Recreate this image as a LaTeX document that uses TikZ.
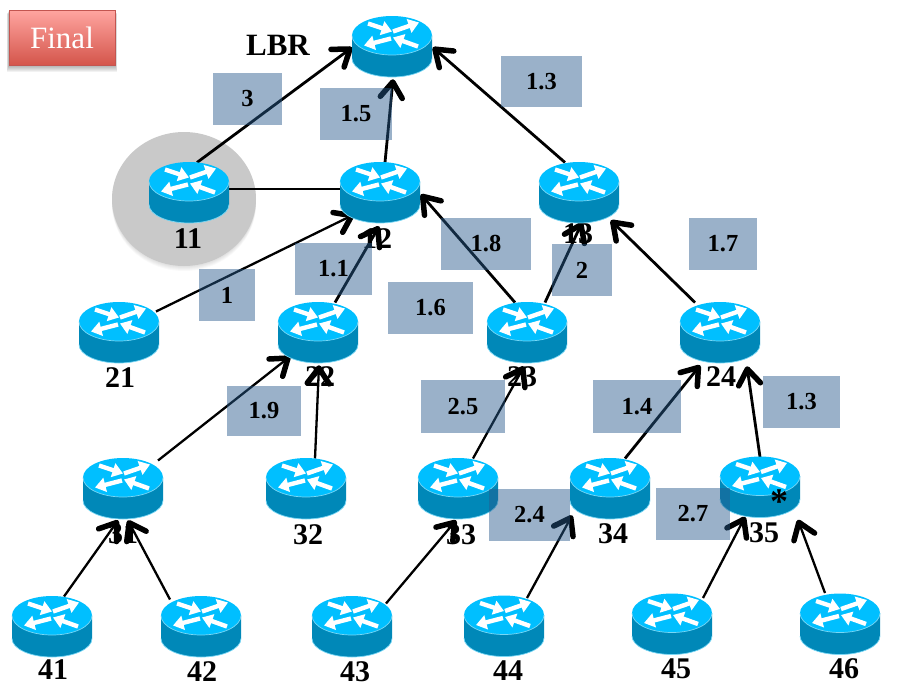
\documentclass[tikz,border=0pt]{standalone}
\usepackage{fontspec}
\setmainfont{Liberation Serif}
\usetikzlibrary{arrows.meta,calc,shapes.geometric}
\definecolor{rtop}{RGB}{0,191,255}
\definecolor{rside}{RGB}{0,136,184}
\definecolor{rrim}{RGB}{120,215,245}
\definecolor{boxblue}{RGB}{40,90,140}
\pgfdeclarearrow{
  name=VBarb,
  setup code={\pgfarrowssettipend{0pt}\pgfarrowssetlineend{-3pt}\pgfarrowssetvisualbackend{-18pt}\pgfarrowssetbackend{-18pt}},
  drawing code={
    \pgfsetlinewidth{5.5pt}\pgfsetroundcap\pgfsetroundjoin\pgfsetdash{}{0pt}
    \pgfpathmoveto{\pgfpoint{-18pt}{11pt}}
    \pgfpathlineto{\pgfpoint{-2.5pt}{0pt}}
    \pgfpathlineto{\pgfpoint{-18pt}{-11pt}}
    \pgfusepathqstroke
  }
}
\tikzset{
  rtr/.style={ellipse,minimum width=80pt,minimum height=61pt,inner sep=0pt},
  arr/.style={line width=2.8pt,-{VBarb}},
  thinarr/.style={line width=2.3pt,-{VBarb}},
  plainline/.style={line width=2.8pt},
  numlabel/.style={font=\fontsize{30}{32}\selectfont\bfseries,inner sep=0pt},
  valbox/.style={fill=boxblue,fill opacity=.47,text opacity=1,inner sep=0pt,font=\fontsize{24.5}{26}\selectfont\bfseries},
  rarrow/.style={white,line width=4.4pt,-{Triangle[length=10.5pt,width=14pt]}},
}
\begin{document}
\begin{tikzpicture}[x=1pt,y=-1pt]
\useasboundingbox (0,0) rectangle (899,699);
% gray halo behind router 11
\foreach \o in {5,4,3,2,1}
  \fill[black,opacity=.025] (184,199+\o) ellipse [x radius=72,y radius=67];
\fill[black!21] (184,199) ellipse [x radius=72,y radius=67];
% Final button
\foreach \o in {7,6,5,4,3,2,1}
  \fill[black,opacity=.05] (9-\o/3,10+\o/2) rectangle (115+\o/3,65+\o);
\node[draw={rgb,255:red,195;green,85;blue,80},line width=1pt,top color={rgb,255:red,255;green,165;blue,160},bottom color={rgb,255:red,212;green,85;blue,75},minimum width=106pt,minimum height=55pt,inner sep=0pt,text=white,font=\fontsize{31}{33}\selectfont] (final) at (62,37.5) {Final};
% router anchors
\node[rtr] (lbr) at (392,46.5) {};
\node[rtr] (r11) at (189,192.5) {};
\node[rtr] (r12) at (380,192.5) {};
\node[rtr] (r13) at (579,192.5) {};
\node[rtr] (r21) at (119,332.5) {};
\node[rtr] (r22) at (318,332.5) {};
\node[rtr] (r23) at (527,332.5) {};
\node[rtr] (r24) at (720,332.5) {};
\node[rtr] (r31) at (123,488.5) {};
\node[rtr] (r32) at (306,488.5) {};
\node[rtr] (r33) at (458,488.5) {};
\node[rtr] (r34) at (610,488.5) {};
\node[rtr] (r35) at (760,487) {};
\node[rtr] (r41) at (52,626.5) {};
\node[rtr] (r42) at (201,626.5) {};
\node[rtr] (r43) at (352,626.5) {};
\node[rtr] (r44) at (504,626) {};
\node[rtr] (r45) at (672,624) {};
\node[rtr] (r46) at (840,624) {};
% text labels
\node[numlabel,font=\fontsize{31}{33}\selectfont\bfseries] (tlbr) at (278,45) {LBR};
\node[numlabel] (t11) at (188,239) {11};
\node[numlabel] (t12) at (377,239) {12};
\node[numlabel] (t13) at (578,234) {13};
\node[numlabel] (t21) at (120,378) {21};
\node[numlabel] (t22) at (320,377) {22};
\node[numlabel] (t23) at (522,377) {23};
\node[numlabel] (t24) at (721,377) {24};
\node[numlabel] (t31) at (123,534) {31};
\node[numlabel] (t32) at (308,535) {32};
\node[numlabel] (t33) at (461,535) {33};
\node[numlabel] (t34) at (613,534) {34};
\node[numlabel] (t35) at (764,533) {35};
\node[numlabel] (t41) at (53,670) {41};
\node[numlabel] (t42) at (202,672) {42};
\node[numlabel] (t43) at (355,672) {43};
\node[numlabel] (t44) at (508,671) {44};
\node[numlabel] (t45) at (676,669) {45};
\node[numlabel] (t46) at (844,669) {46};
% connectors
\draw[arr] ($(r11)+(8,-30)$) -- ($(lbr)+(-40,1)$);
\draw[plainline] ($(r11)+(40,-3.5)$) -- ($(r12)+(-40,-3.5)$);
\draw[arr] ($(r12)+(5,-30)$) -- ($(lbr)+(1,33)$);
\draw[arr] ($(r13)+(-14,-30)$) -- ($(lbr)+(41,1)$);
\draw[thinarr] ($(r21)+(37,-21)$) -- ($(r12)+(-26,22)$);
\draw[arr] ($(r22)+(17,-30)$) -- ($(r12)+(-1,34)$);
\draw[arr] ($(r23)+(-12,-30)$) -- ($(r12)+(41,2)$);
\draw[arr] ($(r23)+(18,-30)$) -- ($(r13)+(3,30)$);
\draw[arr] ($(r24)+(-25,-30)$) -- ($(r13)+(32,28)$);
\draw[thinarr] ($(r31)+(35,-28)$) -- ($(r22)+(-28,24)$);
\draw[thinarr] ($(r32)+(9,-30)$) -- ($(r22)+(1,33)$);
\draw[thinarr] ($(r33)+(15,-30)$) -- ($(r23)+(-3,34)$);
\draw[arr] ($(r34)+(15,-30)$) -- ($(r24)+(-20,33)$);
\draw[arr] ($(r35)+(0,-30)$) -- ($(r24)+(27,34)$);
\draw[thinarr] ($(r41)+(12,-30)$) -- ($(r31)+(-5,32)$);
\draw[thinarr] ($(r42)+(-31,-27)$) -- ($(r31)+(5,32)$);
\draw[thinarr] ($(r43)+(34,-23)$) -- ($(r33)+(-2,32)$);
\draw[thinarr] ($(r44)+(23,-28)$) -- ($(r34)+(-38,27)$);
\draw[thinarr] ($(r45)+(31,-26)$) -- ($(r35)+(-15,30)$);
\draw[thinarr] ($(r46)+(-15,-31)$) -- ($(r35)+(38,33)$);
% router artwork
\foreach \n in {lbr,r11,r12,r13,r21,r22,r23,r24,r31,r32,r33,r34,r35,r41,r42,r43,r44,r45,r46}{
\begin{scope}[shift={(\n)}]
  \fill[rside] (-40,-11) -- (40,-11) -- (40,12) arc[start angle=0,end angle=180,x radius=40,y radius=18.5] -- cycle;
  \draw[rrim,line width=.7pt] (40,12) arc[start angle=0,end angle=180,x radius=40,y radius=18.5];
  \fill[rtop] (0,-11) ellipse [x radius=40,y radius=19.5];
  \draw[rrim,line width=.7pt] (40,-11) arc[start angle=0,end angle=180,x radius=40,y radius=19.5];
  \begin{scope}[shift={(0,-11)}]
    \draw[rarrow] (-24,-12) -- (0,-4);
    \draw[rarrow] (1,-4) -- (27,-13);
    \draw[rarrow] (-1,3) -- (-28,10);
    \draw[rarrow] (26,11) -- (1,2);
  \end{scope}
\end{scope}}
% value boxes
\node[valbox,minimum width=69pt,minimum height=52pt] (b1) at (247.5,99) {3};
\node[valbox,minimum width=72pt,minimum height=52pt] (b2) at (356,114) {1.5};
\node[valbox,minimum width=81pt,minimum height=51pt] (b3) at (541.5,81.5) {1.3};
\node[valbox,minimum width=90pt,minimum height=52pt] (b4) at (486,244) {1.8};
\node[valbox,minimum width=60pt,minimum height=52pt] (b5) at (582,270) {2};
\node[valbox,minimum width=68pt,minimum height=52pt] (b6) at (723,244) {1.7};
\node[valbox,minimum width=56pt,minimum height=52pt] (b7) at (227,295) {1};
\node[valbox,minimum width=77pt,minimum height=52pt] (b8) at (333.5,269) {1.1};
\node[valbox,minimum width=85pt,minimum height=52pt] (b9) at (430.5,308) {1.6};
\node[valbox,minimum width=74pt,minimum height=50pt] (b10) at (264,411) {1.9};
\node[valbox,minimum width=84pt,minimum height=53pt] (b11) at (463,406.5) {2.5};
\node[valbox,minimum width=88pt,minimum height=53pt] (b12) at (637,406.5) {1.4};
\node[valbox,minimum width=77pt,minimum height=52pt] (b13) at (801.5,402) {1.3};
\node[valbox,minimum width=81pt,minimum height=52pt] (b14) at (529.5,515) {2.4};
\node[valbox,minimum width=74pt,minimum height=52pt] (b15) at (693,514) {2.7};
\node[inner sep=0pt,font=\fontsize{36}{38}\selectfont\bfseries] (star) at (779,502) {*};
\end{tikzpicture}
\end{document}
